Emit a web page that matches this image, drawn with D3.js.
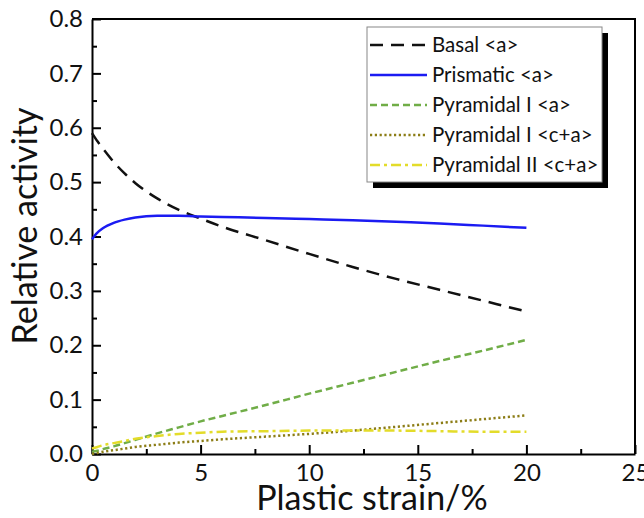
<!DOCTYPE html>
<html>
<head>
<meta charset="utf-8">
<script src="https://cdn.jsdelivr.net/npm/d3@7"></script>
<style>
  body { margin: 0; background: #fff; }
  text { font-family: Lato, "Open Sans", sans-serif; fill: #111; }
</style>
</head>
<body>
<div id="chart"></div>
<script>
// strain grid (%), shared by all series
const strain = [0, 0.25, 0.5, 1, 1.5, 2, 3, 4, 5, 6, 8, 10, 12, 14, 16, 18, 20];

// relative activity
const basalA      = [0.590, 0.575, 0.562, 0.537, 0.516, 0.498, 0.470, 0.449, 0.433, 0.418, 0.393, 0.368, 0.344, 0.322, 0.302, 0.282, 0.262];
const prismaticA  = [0.395, 0.407, 0.415, 0.425, 0.431, 0.435, 0.438, 0.438, 0.437, 0.436, 0.434, 0.432, 0.430, 0.427, 0.424, 0.420, 0.416];
const pyramidalIA = [0.004, 0.006, 0.009, 0.014, 0.020, 0.026, 0.038, 0.049, 0.060, 0.070, 0.090, 0.111, 0.131, 0.151, 0.171, 0.190, 0.210];
const pyramidalICA  = [0.000, 0.002, 0.004, 0.007, 0.010, 0.013, 0.017, 0.021, 0.024, 0.027, 0.032, 0.037, 0.043, 0.050, 0.057, 0.064, 0.071];
const pyramidalIICA = [0.010, 0.013, 0.016, 0.020, 0.024, 0.028, 0.033, 0.037, 0.039, 0.041, 0.042, 0.043, 0.043, 0.043, 0.042, 0.041, 0.041];

const seriesNames = ["Basal <a>", "Prismatic <a>", "Pyramidal I <a>", "Pyramidal I <c+a>", "Pyramidal II <c+a>"];
const seriesValues = [basalA, prismaticA, pyramidalIA, pyramidalICA, pyramidalIICA];

const xTicks = [0, 5, 10, 15, 20, 25];
const yTicks = [0, 0.1, 0.2, 0.3, 0.4, 0.5, 0.6, 0.7, 0.8];

// styles
const styles = [
  { color: "#111111", dash: "13,8" },
  { color: "#1b1bf2", dash: null },
  { color: "#70ad47", dash: "7,4" },
  { color: "#8c7d16", dash: "2.2,2.6" },
  { color: "#e3dc2a", dash: "10,4,3,4" }
];

const width = 644, height = 518;
const margin = { top: 19, right: 9, bottom: 64, left: 92 };

const x = d3.scaleLinear().domain([0, 25]).range([margin.left, width - margin.right]);
const y = d3.scaleLinear().domain([0, 0.8]).range([height - margin.bottom, margin.top]);

const svg = d3.select("#chart").append("svg")
  .attr("width", width)
  .attr("height", height);

// frame (top + right)
svg.append("path")
  .attr("d", `M${x(0)},${y(0.8)}H${x(25)}V${y(0)}`)
  .attr("fill", "none")
  .attr("stroke", "#000")
  .attr("stroke-width", 2);

// minor ticks
const minorX = d3.range(2.5, 25, 5);
const minorY = d3.range(0.05, 0.8, 0.1);
svg.append("g")
  .attr("transform", `translate(0,${y(0)})`)
  .call(d3.axisBottom(x).tickValues(minorX).tickSize(-5).tickFormat(""))
  .call(g => g.select(".domain").remove())
  .call(g => g.selectAll(".tick line").attr("stroke", "#000").attr("stroke-width", 2));
svg.append("g")
  .attr("transform", `translate(${x(0)},0)`)
  .call(d3.axisLeft(y).tickValues(minorY).tickSize(-5).tickFormat(""))
  .call(g => g.select(".domain").remove())
  .call(g => g.selectAll(".tick line").attr("stroke", "#000").attr("stroke-width", 2));

// major axes
svg.append("g")
  .attr("transform", `translate(0,${y(0)})`)
  .call(d3.axisBottom(x).tickValues(xTicks).tickSize(-9).tickPadding(10).tickSizeOuter(0).tickFormat(d3.format("d")))
  .call(g => g.select(".domain").attr("stroke-width", 2))
  .call(g => g.selectAll(".tick line").attr("stroke-width", 2))
  .call(g => g.selectAll(".tick text").style("font-size", "24px").attr("font-family", null));

svg.append("g")
  .attr("transform", `translate(${x(0)},0)`)
  .call(d3.axisLeft(y).tickValues(yTicks).tickSize(-9).tickPadding(9).tickSizeOuter(0).tickFormat(d3.format(".1f")))
  .call(g => g.select(".domain").attr("stroke-width", 2))
  .call(g => g.selectAll(".tick line").attr("stroke-width", 2))
  .call(g => g.selectAll(".tick text").style("font-size", "24px").attr("font-family", null));

// axis titles
svg.append("text")
  .attr("x", 372)
  .attr("y", 510)
  .attr("text-anchor", "middle")
  .style("font-size", "34px")
  .text("Plastic strain/%");

svg.append("text")
  .attr("transform", "translate(37,226) rotate(-90)")
  .attr("text-anchor", "middle")
  .style("font-size", "34px")
  .text("Relative activity");

// lines
const line = d3.line()
  .x((d, i) => x(strain[i]))
  .y(d => y(d))
  .curve(d3.curveMonotoneX);

const plot = svg.append("g");
seriesValues.forEach((vals, k) => {
  plot.append("path")
    .datum(vals)
    .attr("d", line)
    .attr("fill", "none")
    .attr("stroke", styles[k].color)
    .attr("stroke-width", 2.5)
    .attr("stroke-dasharray", styles[k].dash);
});

// legend
const lg = { x: 367, y: 27, w: 235, h: 155, row: 30 };
const legend = svg.append("g");
legend.append("rect")
  .attr("x", lg.x + 6).attr("y", lg.y + 6)
  .attr("width", lg.w).attr("height", lg.h)
  .attr("fill", "#000");
legend.append("rect")
  .attr("x", lg.x).attr("y", lg.y)
  .attr("width", lg.w).attr("height", lg.h)
  .attr("fill", "#fff")
  .attr("stroke", "#888")
  .attr("stroke-width", 1);

seriesNames.forEach((name, k) => {
  const yy = lg.y + 18 + k * lg.row;
  legend.append("line")
    .attr("x1", lg.x + 3).attr("x2", lg.x + 60)
    .attr("y1", yy).attr("y2", yy)
    .attr("stroke", styles[k].color)
    .attr("stroke-width", 2.5)
    .attr("stroke-dasharray", styles[k].dash);
  legend.append("text")
    .attr("x", lg.x + 65)
    .attr("y", yy)
    .attr("dy", "0.35em")
    .style("font-size", "20.5px")
    .text(name);
});
</script>
</body>
</html>
